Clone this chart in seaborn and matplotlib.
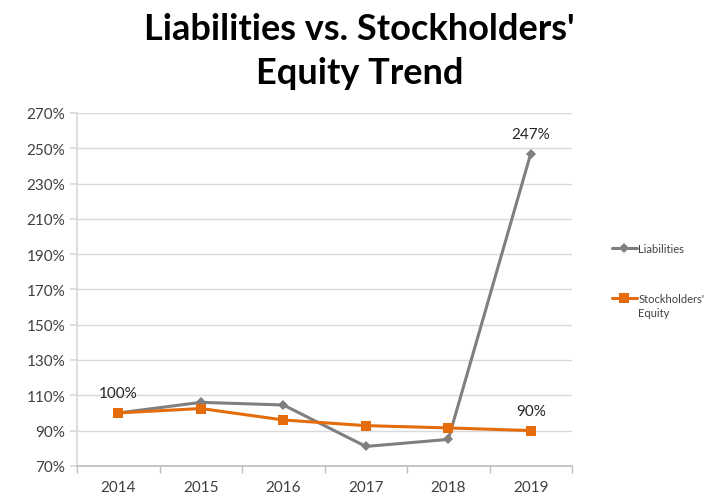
import numpy as np
import pandas as pd
import seaborn as sns
import matplotlib.pyplot as plt
from matplotlib.ticker import FixedLocator, FuncFormatter

# data (percent of 2014 level)
years = ["2014", "2015", "2016", "2017", "2018", "2019"]
liabilities = [100, 106, 104.5, 81, 85, 247]
equity = [100, 102.5, 96, 92.8, 91.5, 90]

df = pd.DataFrame({
    "pos": list(range(len(years))) * 2,
    "value": liabilities + equity,
    "series": ["Liabilities"] * len(years) + ["Stockholders'"] * len(years),
})

sns.set_theme(style="white")
plt.rcParams["font.family"] = ["Lato", "DejaVu Sans"]

fig = plt.figure(figsize=(7.15, 5.02), dpi=100)
ax = fig.add_axes([0.108, 0.07, 0.692, 0.703])

palette = {"Liabilities": "#7f7f7f", "Stockholders'": "#e46c0a"}
markers = {"Liabilities": "D", "Stockholders'": "s"}
sizes = {"Liabilities": 5, "Stockholders'": 7}
for name, grp in df.groupby("series", sort=False):
    sns.lineplot(data=grp, x="pos", y="value", ax=ax, color=palette[name],
                 marker=markers[name], markersize=sizes[name], markeredgewidth=0,
                 linewidth=2.2, label=name)

ax.set_xlim(-0.5, len(years) - 0.5)
ax.set_ylim(70, 270)
ax.set_yticks(np.arange(70, 271, 20))
ax.yaxis.set_major_formatter(FuncFormatter(lambda v, p: f"{v:.0f}%"))
ax.set_xticks(range(len(years)))
ax.set_xticklabels(years)
ax.xaxis.set_minor_locator(FixedLocator(np.arange(-0.5, len(years), 1)))
ax.tick_params(axis="x", which="major", length=0, pad=10, labelsize=11, colors="#404040")
ax.tick_params(axis="x", which="minor", length=5, color="#bfbfbf", direction="out", bottom=True)
ax.tick_params(axis="y", length=5, color="#d9d9d9", labelsize=11, colors="#404040", left=True)
ax.grid(axis="y", color="#d9d9d9", linewidth=1)
ax.set_xlabel("")
ax.set_ylabel("")
for s in ["top", "right"]:
    ax.spines[s].set_visible(False)
ax.spines["left"].set_color("#d9d9d9")
ax.spines["bottom"].set_color("#bfbfbf")

# data labels
ax.annotate("100%", (0, liabilities[0]), xytext=(0, 9), textcoords="offset points",
            ha="center", va="bottom", fontsize=11, color="#262626")
ax.annotate(f"{liabilities[-1]}%", (5, liabilities[-1]), xytext=(0, 9), textcoords="offset points",
            ha="center", va="bottom", fontsize=11, color="#262626")
ax.annotate(f"{equity[-1]}%", (5, equity[-1]), xytext=(0, 9), textcoords="offset points",
            ha="center", va="bottom", fontsize=11, color="#262626")

leg = ax.legend(loc="upper left", bbox_to_anchor=(1.06, 0.66), frameon=False,
                fontsize=8, handlelength=2.3, handletextpad=0.1, labelspacing=3.5)
for t in leg.get_texts():
    t.set_color("#404040")
# second line of the equity label sits under the first, as in the original
fig.canvas.draw()
bb = leg.get_texts()[1].get_window_extent()
fig.text(bb.x0 / fig.bbox.width, (bb.y0 - 3) / fig.bbox.height, "Equity",
         ha="left", va="top", fontsize=8, color="#404040")

fig.suptitle("Liabilities vs. Stockholders'\nEquity Trend", x=0.503, y=0.975,
             fontsize=26, fontweight="bold", color="#000000", linespacing=1.42)

fig.savefig("out.png", dpi=100)
